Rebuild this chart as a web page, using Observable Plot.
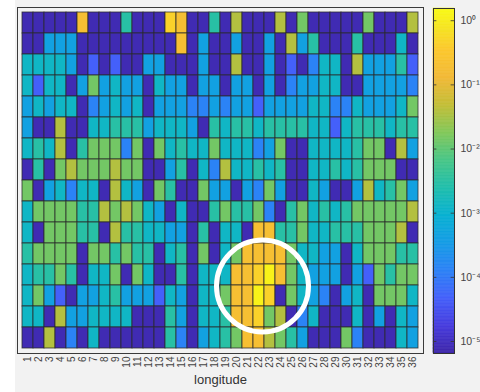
<!DOCTYPE html>
<html><head><meta charset="utf-8">
<script src="https://cdn.jsdelivr.net/npm/d3@7"></script>
<script src="https://cdn.jsdelivr.net/npm/@observablehq/plot@0.6"></script>
<style>
html,body{margin:0;padding:0;background:#fff;}
#wrap{position:relative;width:480px;height:392px;overflow:hidden;background:#fff;font-family:"Liberation Sans",Arial,sans-serif;}
#panel{position:absolute;left:15px;top:0;width:465px;height:392px;background:#f2f2f2;}
#heat,#cbar{position:absolute;top:0;}
#heat{left:0;}
#cbar{left:425px;}
</style></head><body>
<div id="wrap"><div id="panel"></div><div id="heat"></div><div id="cbar"></div></div>
<script>
// x categories (longitude) and row ids (top to bottom)
const longitude = [1,2,3,4,5,6,7,8,9,10,11,12,13,14,15,16,17,18,19,20,21,22,23,24,25,26,27,28,29,30,31,32,33,34,35,36];
const rowIds = [1,2,3,4,5,6,7,8,9,10,11,12,13,14,15,16];

// cell values, one array per row (top row first)
const row01 = [8e-6,8e-6,8e-6,8e-6,8e-6,0.2,8e-6,8e-6,8e-6,3e-3, 8e-6,8e-6,8e-6,0.45,0.2,8e-6,8e-6,3e-3,8e-6,3.8e-2, 8e-6,8e-6,8e-6,3.8e-2,8e-6,1.4e-2,8e-6,8e-6,8e-6,8e-6, 8e-6,1.4e-2,8e-6,8e-6,8e-6,3.8e-2];
const row02 = [8e-6,8e-6,4.4e-4,4.4e-4,4.4e-4,8e-6,8e-6,8e-6,8e-6,8e-6, 8e-6,8e-6,8e-6,8e-6,0.2,8e-6,4.4e-4,8e-6,8e-6,4.4e-4, 8e-6,8e-6,4.4e-4,8e-6,3.8e-2,4.4e-4,3e-3,8e-6,8e-6,8e-6, 3e-3,8e-6,8e-6,8e-6,1.3e-3,8e-6];
const row03 = [1.3e-3,1.3e-3,1.3e-3,1.3e-3,4.4e-4,8e-6,4.7e-5,8e-6,4.7e-5,8e-6, 8e-6,4.4e-4,4.4e-4,8e-6,8e-6,8e-6,4.4e-4,8e-6,8e-6,3.8e-2, 8e-6,8e-6,4.4e-4,8e-6,4.7e-5,8e-6,1.3e-4,1.3e-3,1.3e-3,8e-6, 3.8e-2,4.4e-4,4.4e-4,4.4e-4,3e-3,4.7e-5];
const row04 = [1.3e-3,4.7e-5,1.3e-3,1.3e-3,8e-6,4.4e-4,1.4e-2,4.4e-4,1.3e-3,4.4e-4, 4.4e-4,8e-6,1.3e-3,4.4e-4,4.4e-4,8e-6,4.4e-4,4.4e-4,8e-6,4.4e-4, 4.4e-4,8e-6,4.4e-4,8e-6,1.3e-4,4.4e-4,4.4e-4,1.3e-3,1.3e-3,8e-6, 8e-6,4.4e-4,4.4e-4,4.4e-4,4.4e-4,1.3e-4];
const row05 = [4.4e-4,1.3e-3,4.4e-4,1.3e-3,1.3e-3,8e-6,1.3e-4,4.4e-4,1.3e-3,4.4e-4, 1.3e-3,8e-6,4.4e-4,4.4e-4,4.4e-4,1.3e-4,1.3e-4,4.4e-4,1.3e-4,4.4e-4, 4.4e-4,4.7e-5,4.4e-4,4.4e-4,4.4e-4,4.4e-4,1.3e-3,1.3e-3,1.3e-4,1.3e-4, 1.3e-3,4.4e-4,4.4e-4,4.4e-4,1.3e-3,1.4e-2];
const row06 = [4.4e-4,8e-6,8e-6,3.8e-2,8e-6,8e-6,1.3e-3,1.3e-3,3e-3,3e-3, 3e-3,4.4e-4,1.3e-3,1.3e-3,1.3e-3,4.4e-4,8e-6,3e-3,1.3e-3,3e-3, 3e-3,1.3e-3,3e-3,3e-3,3e-3,3e-3,1.3e-3,1.3e-3,4.7e-5,1.3e-3, 3e-3,3e-3,3e-3,1.3e-3,3e-3,3e-3];
const row07 = [1.3e-3,3e-3,1.3e-3,3.8e-2,8e-6,3e-3,1.4e-2,1.4e-2,1.4e-2,1.3e-4, 1.4e-2,8e-6,1.4e-2,1.3e-3,3e-3,1.3e-3,1.3e-3,1.4e-2,1.3e-3,1.3e-3, 1.3e-3,1.3e-4,4.4e-4,1.4e-2,8e-6,8e-6,1.3e-3,1.3e-3,1.3e-3,1.3e-3, 3e-3,1.4e-2,1.4e-2,8e-6,3.8e-2,4.4e-4];
const row08 = [8e-6,3e-3,8e-6,1.4e-2,3.8e-2,1.4e-2,1.4e-2,1.4e-2,3.8e-2,1.4e-2, 1.4e-2,8e-6,8e-6,4.4e-4,3e-3,8e-6,1.3e-3,1.3e-4,3.8e-2,1.3e-3, 1.3e-3,3e-3,1.3e-3,3e-3,8e-6,8e-6,1.3e-3,1.3e-3,3e-3,1.3e-3, 3e-3,1.4e-2,1.4e-2,1.4e-2,8e-6,8e-6];
const row09 = [1.4e-2,8e-6,4.4e-4,1.3e-3,1.3e-4,1.3e-3,1.3e-3,8e-6,3.8e-2,1.3e-3, 4.4e-4,8e-6,1.4e-2,3e-3,8e-6,8e-6,1.4e-2,4.4e-4,4.4e-4,8e-6, 4.4e-4,1.3e-4,1.4e-2,4.4e-4,8e-6,8e-6,1.3e-3,4.4e-4,8e-6,8e-6, 4.4e-4,3.8e-2,1.3e-3,3e-3,1.4e-2,4.4e-4];
const row10 = [1.3e-3,1.4e-2,1.4e-2,1.4e-2,1.4e-2,3e-3,3e-3,3.8e-2,1.4e-2,3.8e-2, 1.4e-2,1.3e-3,4.4e-4,8e-6,1.3e-3,8e-6,8e-6,3e-3,1.4e-2,3e-3, 3e-3,1.4e-2,1.3e-4,8e-6,3e-3,1.4e-2,1.3e-3,3e-3,1.3e-3,3e-3, 1.4e-2,1.4e-2,1.4e-2,1.4e-2,1.4e-2,3.8e-2];
const row11 = [1.3e-3,8e-6,1.4e-2,1.4e-2,1.4e-2,3e-3,3e-3,8e-6,3.8e-2,3e-3, 3e-3,1.3e-3,1.3e-3,4.4e-4,4.4e-4,8e-6,3e-3,8e-6,1.3e-3,1.3e-3, 8e-6,0.2,0.2,3e-3,3e-3,1.4e-2,1.3e-3,1.3e-3,3e-3,3e-3, 3e-3,1.4e-2,1.4e-2,1.4e-2,3.8e-2,8e-6];
const row12 = [3e-3,1.4e-2,1.4e-2,1.4e-2,1.4e-2,8e-6,1.4e-2,1.4e-2,3e-3,1.4e-2, 3e-3,3e-3,8e-6,1.3e-3,3e-3,8e-6,1.4e-2,8e-6,1.3e-3,1.4e-2, 0.2,0.2,0.2,0.2,1.4e-2,1.3e-3,1.3e-3,4.4e-4,4.4e-4,8e-6, 1.3e-3,1.4e-2,1.4e-2,1.4e-2,3e-3,3e-3];
const row13 = [1.3e-3,3e-3,3e-3,1.4e-2,3e-3,8e-6,1.3e-3,1.3e-3,1.4e-2,8e-6, 1.4e-2,1.3e-3,8e-6,8e-6,3e-3,8e-6,1.3e-3,1.3e-3,1.3e-3,0.2, 0.2,0.45,1.2,0.2,1.4e-2,1.3e-3,4.4e-4,4.4e-4,4.4e-4,8e-6, 4.4e-4,4.7e-5,1.4e-2,3e-3,1.4e-2,1.4e-2];
const row14 = [1.3e-3,1.4e-2,4.4e-4,4.7e-5,8e-6,4.4e-4,4.4e-4,1.3e-3,3e-3,4.4e-4, 4.4e-4,4.4e-4,4.7e-5,1.3e-3,4.4e-4,8e-6,1.3e-3,1.3e-3,1.4e-2,0.2, 0.2,1.2,0.45,8e-6,1.4e-2,1.3e-3,4.4e-4,1.3e-4,8e-6,4.4e-4, 1.3e-3,8e-6,1.4e-2,1.4e-2,1.4e-2,1.3e-3];
const row15 = [1.3e-3,1.3e-3,8e-6,3.8e-2,4.4e-4,4.4e-4,1.3e-3,1.3e-3,1.3e-3,1.3e-3, 8e-6,8e-6,8e-6,3e-3,4.4e-4,8e-6,1.3e-3,1.3e-3,3e-3,0.2, 0.2,0.45,1.4e-2,3.8e-2,8e-6,1.3e-4,1.3e-3,8e-6,8e-6,8e-6, 1.3e-3,8e-6,4.4e-4,8e-6,1.3e-3,4.4e-4];
const row16 = [8e-6,8e-6,3.8e-2,8e-6,1.3e-4,8e-6,1.3e-3,8e-6,8e-6,8e-6, 8e-6,8e-6,8e-6,3e-3,1.3e-4,8e-6,4.4e-4,1.3e-3,3e-3,1.4e-2, 0.2,0.2,3.8e-2,1.4e-2,3e-3,4.4e-4,8e-6,8e-6,8e-6,1.4e-2, 1.3e-4,8e-6,8e-6,8e-6,1.3e-3,4.4e-4];

// colorbar
const colorDomain = [6.5e-6, 1.55];
const colorTicks = [1e-5, 1e-4, 1e-3, 1e-2, 1e-1, 1];
const colorTickLabels = ["10\u207B\u2075","10\u207B\u2074","10\u207B\u00B3","10\u207B\u00B2","10\u207B\u00B9","10\u2070"];

// highlighted region (annotation circle)
const highlight = [{lon: 22, row: 14}];

// parula-like colormap
const parulaStops = [[0,[62,38,168]],[0.08,[71,60,222]],[0.16,[68,96,250]],[0.24,[44,130,246]],[0.32,[22,156,230]],[0.40,[8,177,210]],[0.48,[32,190,172]],[0.56,[72,198,135]],[0.64,[130,200,90]],[0.72,[195,190,55]],[0.80,[242,185,55]],[0.88,[252,200,45]],[0.94,[246,226,35]],[1,[249,251,20]]];
function parula(t) {
  t = Math.max(0, Math.min(1, t));
  let i = 0;
  while (i < parulaStops.length - 2 && t > parulaStops[i + 1][0]) i++;
  const [t0, c0] = parulaStops[i], [t1, c1] = parulaStops[i + 1];
  const u = (t - t0) / (t1 - t0);
  const c = c0.map((v, k) => Math.round(v + (c1[k] - v) * u));
  return `rgb(${c[0]},${c[1]},${c[2]})`;
}

const rowsData = [row01,row02,row03,row04,row05,row06,row07,row08,row09,row10,row11,row12,row13,row14,row15,row16];
const table = [];
rowsData.forEach((vals, i) => vals.forEach((v, j) => table.push({lon: longitude[j], row: rowIds[i], value: v})));

const colorOpts = {type: "log", domain: colorDomain, interpolate: parula, clamp: true};
const font = "Liberation Sans, Arial, Helvetica, sans-serif";

const heat = Plot.plot({
  width: 480, height: 392,
  marginLeft: 17, marginRight: 57, marginTop: 7, marginBottom: 39,
  style: {background: "transparent", fontFamily: font, color: "#444", overflow: "visible"},
  x: {type: "band", domain: longitude, padding: 0},
  y: {type: "band", domain: rowIds, padding: 0, axis: null},
  color: colorOpts,
  marks: [
    Plot.cell(table, {x: "lon", y: "row", fill: "value", stroke: "#2a2a2a", strokeWidth: 0.9, strokeOpacity: 0.85}),
    Plot.frame({stroke: "#3a3a3a", strokeWidth: 1}),
    Plot.axisX({tickRotate: -90, tickSize: 0, tickPadding: 3, fontSize: 10, label: null}),
    Plot.text(["longitude"], {text: d => d, frameAnchor: "bottom", dy: 30, fontSize: 13, fill: "#333"}),
    Plot.dot(highlight, {x: "lon", y: "row", r: 46, stroke: "white", strokeWidth: 5, fill: "none", dx: 3.5, dy: -10})
  ]
});
document.getElementById("heat").appendChild(heat);

const nSteps = 240;
const ramp = d3.range(nSteps).map(i => {
  const a = Math.log10(colorDomain[0]), b = Math.log10(colorDomain[1]);
  const lo = Math.pow(10, a + (b - a) * i / nSteps), hi = Math.pow(10, a + (b - a) * (i + 1) / nSteps);
  return {lo, hi, mid: Math.sqrt(lo * hi)};
});

const cbar = Plot.plot({
  width: 55, height: 392,
  marginLeft: 8, marginRight: 26, marginTop: 8, marginBottom: 39,
  style: {background: "transparent", fontFamily: font, color: "#444", overflow: "visible"},
  x: {domain: [0, 1], axis: null},
  y: {type: "log", domain: colorDomain, axis: null},
  color: colorOpts,
  marks: [
    Plot.rect(ramp, {x1: 0, x2: 1, y1: "lo", y2: "hi", fill: "mid", stroke: "mid", strokeWidth: 0.6}),
    Plot.ruleY(colorTicks, {x1: 0.84, x2: 1, stroke: "#333", strokeWidth: 0.8}),
    Plot.ruleY(colorTicks, {x1: 0, x2: 0.16, stroke: "#333", strokeWidth: 0.8}),
    Plot.frame({stroke: "#333", strokeWidth: 1}),
    Plot.axisY(colorTicks, {anchor: "right", tickSize: 0, tickPadding: 6, fontSize: 10.5, label: null,
      tickFormat: d => colorTickLabels[colorTicks.indexOf(d)]})
  ]
});
document.getElementById("cbar").appendChild(cbar);
</script>
</body></html>
